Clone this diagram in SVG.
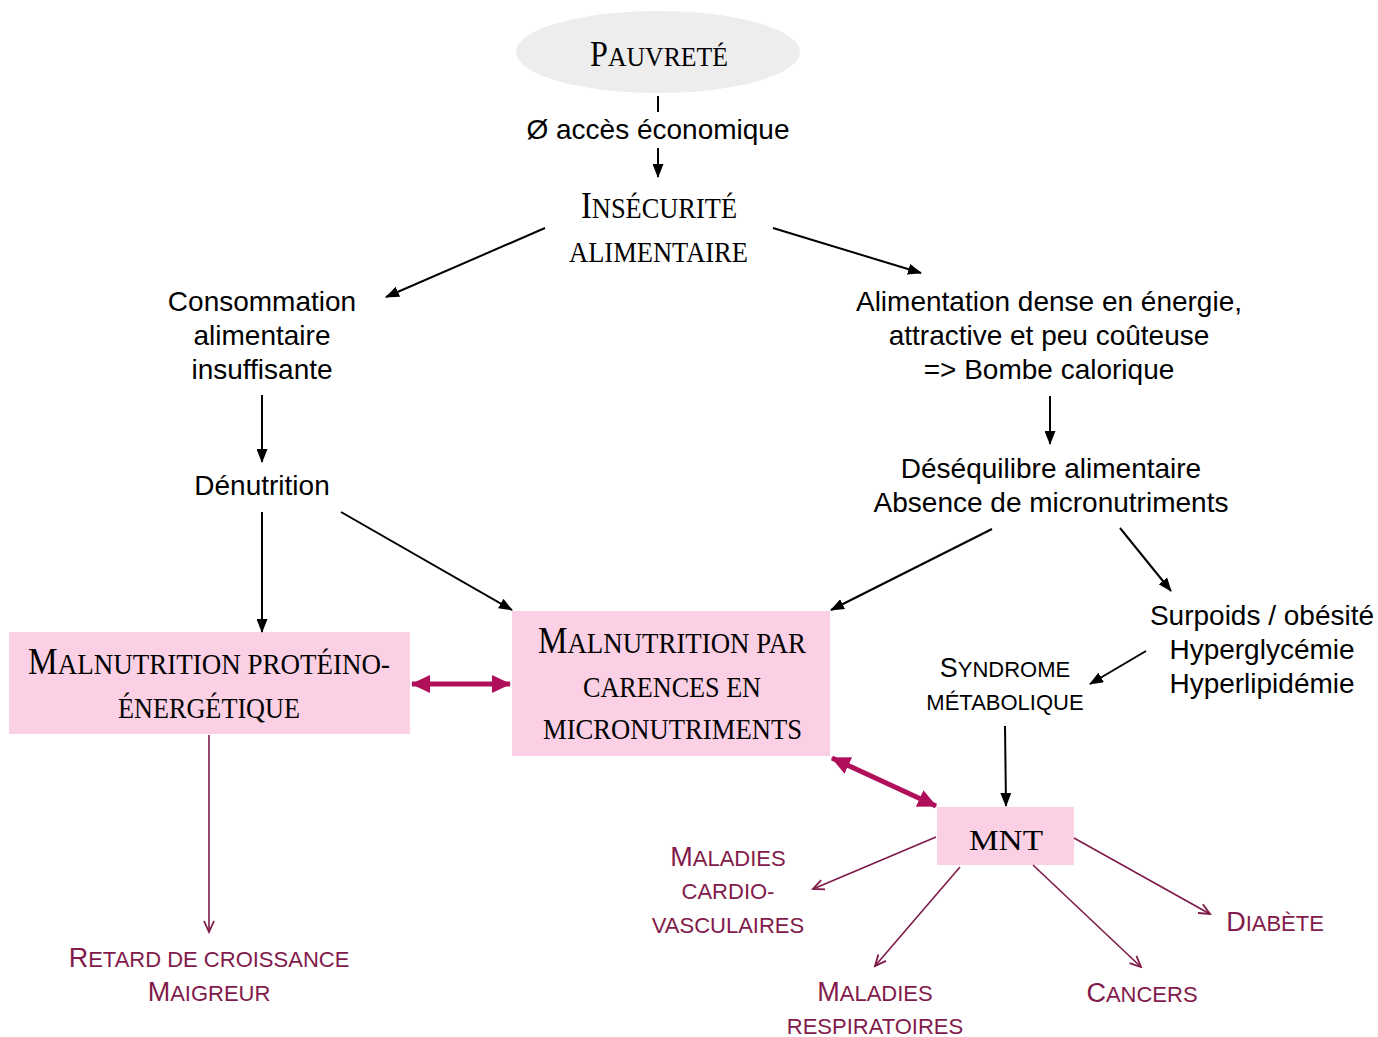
<svg xmlns="http://www.w3.org/2000/svg" width="1378" height="1037" viewBox="0 0 1378 1037">
<style>
.sans{font-family:"Liberation Sans",Arial,sans-serif;font-size:28px;fill:#000;text-anchor:middle}
.serif{font-family:"Liberation Serif","Times New Roman",serif;font-size:30px;fill:#000}
.big{font-size:37px}
.lbl{font-family:"Liberation Sans",Arial,sans-serif;font-size:22px;fill:#821a4b;text-anchor:middle}
.lbl .b{font-size:27px}
.sc{font-family:"Liberation Sans",Arial,sans-serif;font-size:22px;fill:#000;text-anchor:middle}
.sc .b{font-size:27px}
.box{fill:#fbd0e4}
.ar{stroke:#000;stroke-width:2;fill:none;marker-end:url(#ah)}
.mg{stroke:#7e1a4a;stroke-width:1.6;fill:none;marker-end:url(#am)}
.thick{stroke:#b0105a;stroke-width:5;fill:none;marker-start:url(#at);marker-end:url(#at)}
</style>
<defs>
<marker id="ah" markerUnits="userSpaceOnUse" markerWidth="14" markerHeight="11" refX="13" refY="5.5" orient="auto" viewBox="0 0 14 11"><path d="M0,0 L14,5.5 L0,11 z" fill="#000"/></marker>
<marker id="am" markerUnits="userSpaceOnUse" markerWidth="14" markerHeight="12" refX="12" refY="6" orient="auto" viewBox="0 0 14 12"><path d="M1,1 L12,6 L1,11" fill="none" stroke="#7e1a4a" stroke-width="1.8"/></marker>
<marker id="at" markerUnits="userSpaceOnUse" markerWidth="20" markerHeight="20" refX="18" refY="10" orient="auto-start-reverse" viewBox="0 0 20 20"><path d="M0,1 L19,10 L0,19 z" fill="#b0105a"/></marker>
</defs>

<g id="pauvrete">
<ellipse cx="658" cy="52" rx="142" ry="41" fill="#ededed"/>
<text class="serif" x="590" y="66" textLength="138" lengthAdjust="spacingAndGlyphs"><tspan font-size="35">P</tspan><tspan font-size="28">AUVRETÉ</tspan></text>
</g>
<g id="acces"><text class="sans" x="658" y="139">Ø accès économique</text></g>
<g id="insecurite">
<text class="serif" x="581" y="218" textLength="156" lengthAdjust="spacingAndGlyphs"><tspan class="big">I</tspan>NSÉCURITÉ</text>
<text class="serif" x="569" y="262" textLength="179" lengthAdjust="spacingAndGlyphs">ALIMENTAIRE</text>
</g>
<g id="consommation">
<text class="sans" x="262" y="311">Consommation</text>
<text class="sans" x="262" y="345">alimentaire</text>
<text class="sans" x="262" y="379">insuffisante</text>
</g>
<g id="denutrition"><text class="sans" x="262" y="495">Dénutrition</text></g>
<g id="alimentation">
<text class="sans" x="1049" y="311">Alimentation dense en énergie,</text>
<text class="sans" x="1049" y="345">attractive et peu coûteuse</text>
<text class="sans" x="1049" y="379">=&gt; Bombe calorique</text>
</g>
<g id="desequilibre">
<text class="sans" x="1051" y="478">Déséquilibre alimentaire</text>
<text class="sans" x="1051" y="512">Absence de micronutriments</text>
</g>
<g id="surpoids">
<text class="sans" x="1262" y="625">Surpoids / obésité</text>
<text class="sans" x="1262" y="659">Hyperglycémie</text>
<text class="sans" x="1262" y="693">Hyperlipidémie</text>
</g>
<g id="syndrome">
<text class="sc" x="1005" y="677"><tspan class="b">S</tspan>YNDROME</text>
<text class="sc" x="1005" y="710">MÉTABOLIQUE</text>
</g>
<g id="mpe">
<rect class="box" x="9" y="632" width="401" height="102"/>
<text class="serif" x="28" y="674" textLength="362" lengthAdjust="spacingAndGlyphs"><tspan class="big">M</tspan>ALNUTRITION PROTÉINO-</text>
<text class="serif" x="118" y="718" textLength="182" lengthAdjust="spacingAndGlyphs">ÉNERGÉTIQUE</text>
</g>
<g id="mcm">
<rect class="box" x="512" y="611" width="318" height="145"/>
<text class="serif" x="538" y="653" textLength="268" lengthAdjust="spacingAndGlyphs"><tspan class="big">M</tspan>ALNUTRITION PAR</text>
<text class="serif" x="583" y="697" textLength="178" lengthAdjust="spacingAndGlyphs">CARENCES EN</text>
<text class="serif" x="543" y="739" textLength="259" lengthAdjust="spacingAndGlyphs">MICRONUTRIMENTS</text>
</g>
<g id="mnt">
<rect class="box" x="937" y="807" width="137" height="58"/>
<text class="serif" x="969" y="850" font-size="39" textLength="74" lengthAdjust="spacingAndGlyphs">MNT</text>
</g>
<g id="retard">
<text class="lbl" x="209" y="967"><tspan class="b">R</tspan>ETARD DE CROISSANCE</text>
<text class="lbl" x="209" y="1001"><tspan class="b">M</tspan>AIGREUR</text>
</g>
<g id="cardio">
<text class="lbl" x="728" y="866"><tspan class="b">M</tspan>ALADIES</text>
<text class="lbl" x="728" y="899">CARDIO-</text>
<text class="lbl" x="728" y="933">VASCULAIRES</text>
</g>
<g id="respiratoires">
<text class="lbl" x="875" y="1001"><tspan class="b">M</tspan>ALADIES</text>
<text class="lbl" x="875" y="1034">RESPIRATOIRES</text>
</g>
<g id="cancers"><text class="lbl" x="1142" y="1002"><tspan class="b">C</tspan>ANCERS</text></g>
<g id="diabete"><text class="lbl" x="1275" y="931"><tspan class="b">D</tspan>IABÈTE</text></g>

<g id="connectors">
<line x1="658" y1="96" x2="658" y2="112" stroke="#000" stroke-width="2"/>
<line class="ar" x1="658" y1="148" x2="658" y2="177"/>
<line class="ar" x1="545" y1="228" x2="386" y2="297"/>
<line class="ar" x1="773" y1="228" x2="921" y2="273"/>
<line class="ar" x1="262" y1="395" x2="262" y2="462"/>
<line class="ar" x1="262" y1="512" x2="262" y2="632"/>
<line class="ar" x1="341" y1="512" x2="512" y2="610"/>
<line class="ar" x1="1050" y1="396" x2="1050" y2="444"/>
<line class="ar" x1="992" y1="529" x2="831" y2="610"/>
<line class="ar" x1="1120" y1="528" x2="1171" y2="591"/>
<line class="ar" x1="1146" y1="651" x2="1090" y2="684"/>
<line class="ar" x1="1005" y1="726" x2="1006" y2="806"/>
<line class="thick" x1="412" y1="684" x2="510" y2="684"/>
<line class="thick" x1="832" y1="758" x2="936" y2="806"/>
<line class="mg" x1="209" y1="735" x2="209" y2="932"/>
<line class="mg" x1="936" y1="837" x2="813" y2="889"/>
<line class="mg" x1="960" y1="867" x2="875" y2="966"/>
<line class="mg" x1="1033" y1="865" x2="1141" y2="967"/>
<line class="mg" x1="1074" y1="838" x2="1210" y2="914"/>
</g>
</svg>
